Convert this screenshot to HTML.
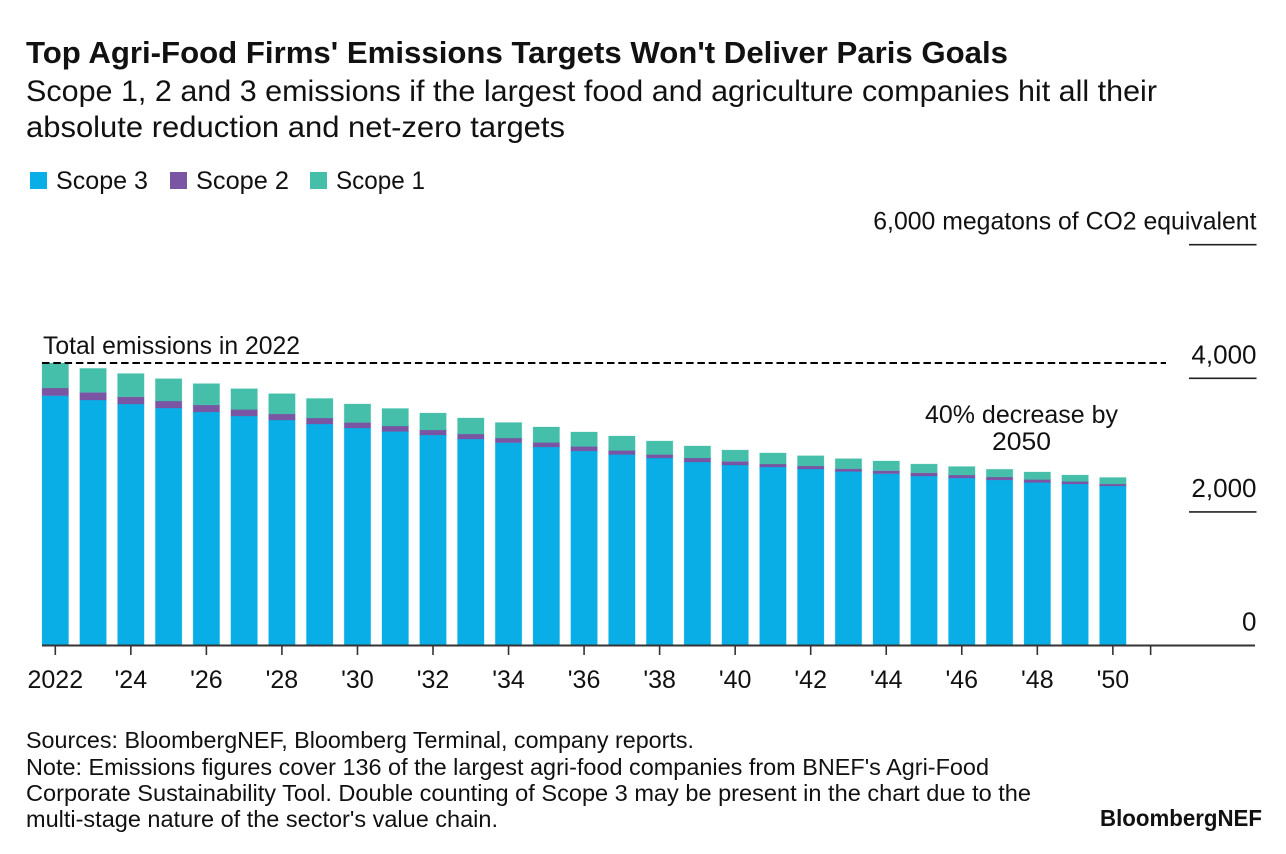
<!DOCTYPE html>
<html lang="en">
<head>
<meta charset="utf-8">
<title>Top Agri-Food Firms' Emissions Targets</title>
<style>
html,body{margin:0;padding:0;background:#fff;width:1286px;height:854px;overflow:hidden}
svg{display:block}
text{font-family:"Liberation Sans",Arial,sans-serif;fill:#111}
</style>
</head>
<body>
<svg id="chart" xmlns="http://www.w3.org/2000/svg" width="1286" height="854" viewBox="0 0 1286 854">
  <rect x="0" y="0" width="1286" height="854" fill="#ffffff"/>
  <text x="26" y="63" font-size="30.5" font-weight="700" fill="#000" textLength="982" lengthAdjust="spacingAndGlyphs">Top Agri-Food Firms' Emissions Targets Won't Deliver Paris Goals</text>
  <text x="26" y="101" font-size="30" textLength="1131" lengthAdjust="spacingAndGlyphs">Scope 1, 2 and 3 emissions if the largest food and agriculture companies hit all their</text>
  <text x="26" y="137" font-size="30" textLength="539" lengthAdjust="spacingAndGlyphs">absolute reduction and net-zero targets</text>

  <g>
    <rect x="30" y="172" width="17" height="17" fill="#09aee6"/>
    <text x="56" y="189" font-size="25" textLength="92" lengthAdjust="spacingAndGlyphs">Scope 3</text>
    <rect x="170" y="172" width="17" height="17" fill="#7a55a3"/>
    <text x="196" y="189" font-size="25" textLength="93" lengthAdjust="spacingAndGlyphs">Scope 2</text>
    <rect x="310" y="172" width="17" height="17" fill="#45bfaa"/>
    <text x="336" y="189" font-size="25" textLength="89" lengthAdjust="spacingAndGlyphs">Scope 1</text>
  </g>

  <g id="bars"></g>
  <g id="y-axis"></g>
  <g id="x-axis"></g>

  <line id="reference-line" x1="42" x2="1166" stroke="#000" stroke-width="2" stroke-dasharray="7.5 3.8"/>
  <text x="43" y="354" font-size="25" textLength="257" lengthAdjust="spacingAndGlyphs">Total emissions in 2022</text>
  <text x="925" y="423" font-size="25" textLength="193" lengthAdjust="spacingAndGlyphs">40% decrease by</text>
  <text x="992" y="450" font-size="25" textLength="59" lengthAdjust="spacingAndGlyphs">2050</text>

  <text x="26" y="748" font-size="23" textLength="668" lengthAdjust="spacingAndGlyphs">Sources: BloombergNEF, Bloomberg Terminal, company reports.</text>
  <text x="26" y="775" font-size="23" textLength="963" lengthAdjust="spacingAndGlyphs">Note: Emissions figures cover 136 of the largest agri-food companies from BNEF's Agri-Food</text>
  <text x="26" y="801" font-size="23" textLength="1005" lengthAdjust="spacingAndGlyphs">Corporate Sustainability Tool. Double counting of Scope 3 may be present in the chart due to the</text>
  <text x="26" y="827" font-size="23" textLength="472" lengthAdjust="spacingAndGlyphs">multi-stage nature of the sector's value chain.</text>
  <text x="1100" y="826" font-size="23" font-weight="700" fill="#2a2a2a" textLength="162" lengthAdjust="spacingAndGlyphs">BloombergNEF</text>
</svg>
<script>
const years = [2022,2023,2024,2025,2026,2027,2028,2029,2030,2031,2032,2033,2034,2035,2036,2037,2038,2039,2040,2041,2042,2043,2044,2045,2046,2047,2048,2049,2050];
const scope3 = [3740,3675,3615,3555,3496,3436,3376,3316,3256,3204,3151,3091,3036,2972,2912,2859,2807,2747,2702,2672,2642,2605,2572,2537,2507,2478,2440,2418,2388];
const scope2 = [115,115,109,105,105,97,90,90,82,82,75,75,70,67,67,60,52,60,55,45,45,42,45,49,45,45,45,37,30];
const scope1 = [374,359,347,334,319,311,304,292,277,262,254,240,232,232,217,217,202,180,169,165,154,150,145,130,127,115,112,97,97];
const yTicks = [0,2000,4000,6000];
const yTickLabels = ['0','2,000','4,000','6,000 megatons of CO2 equivalent'];
const xTickYears = [2022,2024,2026,2028,2030,2032,2034,2036,2038,2040,2042,2044,2046,2048,2050,2051];
const xTickLabels = ['2022',"'24","'26","'28","'30","'32","'34","'36","'38","'40","'42","'44","'46","'48","'50",''];

const NS = 'http://www.w3.org/2000/svg';
const BAR_WIDTH = 26.5;
const COLORS = {s3:'#09aee6', s2:'#7a55a3', s1:'#45bfaa'};
function xScale(year){ return 55.3 + (year - 2022) * 37.77; }
function yScale(v){ return 645.5 - v * 0.0668; }
function make(tag, attrs, parent){
  const el = document.createElementNS(NS, tag);
  for (const k in attrs) el.setAttribute(k, attrs[k]);
  parent.appendChild(el);
  return el;
}
const barsG = document.getElementById('bars');
function segment(year, base, value, color){
  const r = make('rect', {
    x: xScale(year) - BAR_WIDTH / 2,
    y: yScale(base + value),
    width: BAR_WIDTH,
    height: yScale(base) - yScale(base + value),
    fill: color,
    stroke: color,
    'stroke-opacity': 0.25,
    'stroke-width': 1
  }, barsG);
  return r;
}
years.forEach(function(year, i){
  const a = segment(year, 0, scope3[i], COLORS.s3);
  
  
  const b = segment(year, scope3[i], scope2[i], COLORS.s2);
  
  
  const c = segment(year, scope3[i] + scope2[i], scope1[i], COLORS.s1);
  
  
});

const refLine = document.getElementById('reference-line');
const total2022 = scope3[0] + scope2[0] + scope1[0];
refLine.setAttribute('y1', yScale(total2022));
refLine.setAttribute('y2', yScale(total2022));

const yG = document.getElementById('y-axis');
yTicks.forEach(function(v, i){
  if (v !== 0) {
    const gl = make('line', {x1:1189, x2:1256.5, y1:yScale(v), y2:yScale(v), stroke:'#222', 'stroke-width':1.6}, yG);
    
    
  }
  const longLabel = yTickLabels[i].length > 6;
  const t = make('text', {x:1256.5, y:yScale(v) - 15, 'text-anchor':'end', 'font-size':longLabel ? 24.8 : 26}, yG);
  t.textContent = yTickLabels[i];
  
  
});

const xG = document.getElementById('x-axis');
const axisLine = make('line', {x1:42, x2:1255, y1:645.5, y2:645.5, stroke:'#333', 'stroke-width':2}, xG);


xTickYears.forEach(function(year, i){
  const tk = make('line', {x1:xScale(year), x2:xScale(year), y1:645.5, y2:655, stroke:'#333', 'stroke-width':1.6}, xG);
  
  
  if (xTickLabels[i]) {
    const t = make('text', {x:xScale(year), y:688, 'text-anchor':'middle', 'font-size':25}, xG);
    t.textContent = xTickLabels[i];
    
    
  }
});
</script>
</body>
</html>
